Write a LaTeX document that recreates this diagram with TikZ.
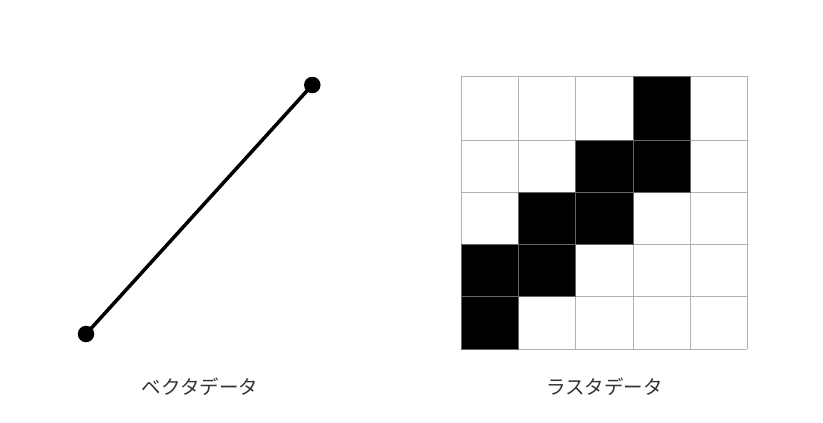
\documentclass[tikz,border=0pt]{standalone}
\usepackage{fontspec}
\newfontfamily\jpfont{Noto Sans CJK JP}
\begin{document}
\begin{tikzpicture}[x=1pt,y=-1pt,
  gridline/.style={draw=black!30,line width=1pt},
  blackcell/.style={fill=black,draw=black!60,line width=1pt},
  dotnode/.style={circle,fill=black,inner sep=0pt,minimum size=16.5pt},
  vline/.style={line width=3.5pt,black},
  caption/.style={font=\jpfont\fontsize{19.5}{22}\selectfont,text=black!80}]
\useasboundingbox (0,0) rectangle (823,423);
% vector
\node[dotnode] (p1) at (86,334) {};
\node[dotnode] (p2) at (312.3,85) {};
\draw[vline] (p1.center) -- (p2.center);
\node[caption] (vcap) at (200,387) {ベクタデータ};
% raster grid
\def\xa{461.7}\def\xb{518.8}\def\xc{575.9}\def\xd{633}\def\xe{690.2}\def\xf{747.3}
\def\ya{76}\def\yb{140.7}\def\yc{192.7}\def\yd{244.7}\def\ye{296.7}\def\yf{349}
\fill[white] (\xa,\ya) rectangle (\xf,\yf);
\foreach \x in {\xa,\xb,\xc,\xd,\xe,\xf} \draw[gridline] (\x,\ya) -- (\x,\yf);
\foreach \y in {\ya,\yb,\yc,\yd,\ye,\yf} \draw[gridline] (\xa,\y) -- (\xf,\y);
\draw[blackcell] (\xd,\ya) rectangle (\xe,\yb);
\draw[blackcell] (\xc,\yb) rectangle (\xd,\yc);
\draw[blackcell] (\xd,\yb) rectangle (\xe,\yc);
\draw[blackcell] (\xb,\yc) rectangle (\xc,\yd);
\draw[blackcell] (\xc,\yc) rectangle (\xd,\yd);
\draw[blackcell] (\xa,\yd) rectangle (\xb,\ye);
\draw[blackcell] (\xb,\yd) rectangle (\xc,\ye);
\draw[blackcell] (\xa,\ye) rectangle (\xb,\yf);
\node[caption] (rcap) at (604.5,387) {ラスタデータ};
\end{tikzpicture}
\end{document}
